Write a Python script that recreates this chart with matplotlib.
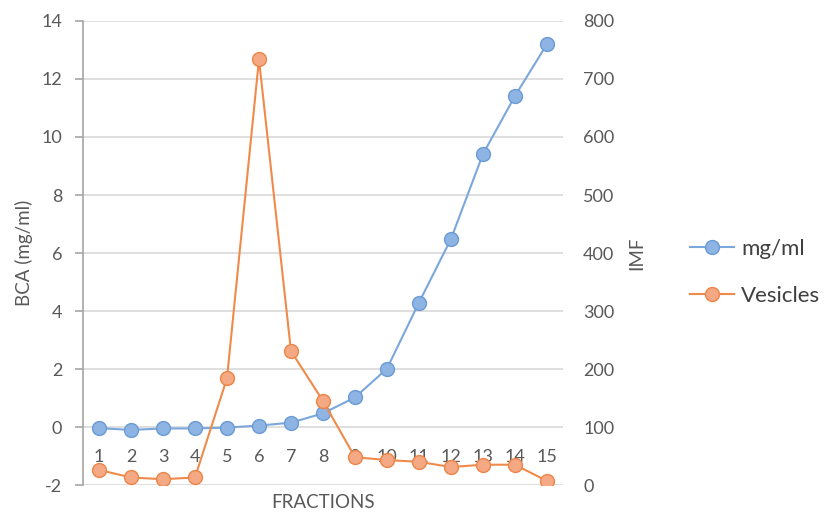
import matplotlib
matplotlib.use("Agg")
import matplotlib.pyplot as plt
from matplotlib.lines import Line2D

plt.rcParams['font.family'] = ['Lato', 'DejaVu Sans']
plt.rcParams['axes.unicode_minus'] = False

fractions = list(range(1, 16))
fraction_labels = [str(f) for f in fractions]
bca_mg_ml = [-0.04, -0.1, -0.05, -0.05, -0.02, 0.05, 0.15, 0.47, 1.02,
             2.01, 4.29, 6.48, 9.41, 11.41, 13.2]
vesicles_imf = [26, 13, 10, 13, 184, 734, 231, 145, 48, 43, 40, 31, 35, 35, 7]

left_ticks = list(range(-2, 15, 2))
right_ticks = list(range(0, 801, 100))

text_grey = '#595959'
grid_grey = '#d9d9d9'
blue_line, blue_face, blue_edge = '#7ba7dc', '#8db4e2', '#6a9bd6'
orange_line, orange_face, orange_edge = '#f08a4b', '#f4a984', '#ee8446'

fig = plt.figure(figsize=(8.26, 5.12), dpi=100)
ax = fig.add_axes([0.1005, 0.0527, 0.581, 0.9063])
ax2 = ax.twinx()

ax.plot(fractions, bca_mg_ml, color=blue_line, lw=1.5, marker='o', ms=10,
        mfc=blue_face, mec=blue_edge, mew=1, zorder=3)
# kept under the axis artists so the category labels stay readable on top
ax2.plot(fractions, vesicles_imf, color=orange_line, lw=1.5, marker='o', ms=10,
         mfc=orange_face, mec=orange_edge, mew=1, zorder=2)

ax.set_xlim(0.5, 15.5)
ax.set_ylim(-2, 14)
ax2.set_ylim(0, 800)
ax.set_yticks(left_ticks)
ax2.set_yticks(right_ticks)

for y in left_ticks:
    ax.axhline(y, color=grid_grey, lw=1.2, zorder=0)

for a in (ax, ax2):
    for s in a.spines.values():
        s.set_visible(False)
ax.spines['left'].set_visible(True)
ax.spines['left'].set_color('#a6a6a6')
ax.spines['left'].set_linewidth(1.2)

ax.tick_params(axis='y', colors='#a6a6a6', labelcolor=text_grey, labelsize=13,
               length=6, width=1.2, direction='out', pad=9)
ax2.tick_params(axis='y', right=False, length=0, labelcolor=text_grey,
                labelsize=13, pad=14.5)

# category labels sit just under the zero line of the left axis, above the lines
ax.tick_params(axis='x', bottom=False, labelbottom=False)
ax2.xaxis.set_visible(True)
ax2.set_xticks(fractions)
ax2.set_xticklabels(fraction_labels)
ax2.tick_params(axis='x', bottom=False, top=False, length=0, labelbottom=True,
                labeltop=False, labelcolor=text_grey, labelsize=13, pad=-26)

ax.set_ylabel('BCA (mg/ml)', color=text_grey, fontsize=13.5, labelpad=6)
ax2.set_ylabel('IMF', color=text_grey, fontsize=13.5, labelpad=10)
fig.text(0.391, 0.018, 'FRACTIONS', color=text_grey, fontsize=13.5,
         ha='center', va='center')

handles = [
    Line2D([], [], color=blue_line, lw=1.5, marker='o', ms=10,
           mfc=blue_face, mec=blue_edge),
    Line2D([], [], color=orange_line, lw=1.5, marker='o', ms=10,
           mfc=orange_face, mec=orange_edge),
]
fig.legend(handles, ['mg/ml', 'Vesicles'], loc='center left',
           bbox_to_anchor=(0.8354, 0.4678), frameon=False, fontsize=16,
           labelcolor='#404040', handlelength=2.0, labelspacing=1.2,
           handletextpad=0.3, borderpad=0, borderaxespad=0)

fig.savefig('out.png', dpi=100)
